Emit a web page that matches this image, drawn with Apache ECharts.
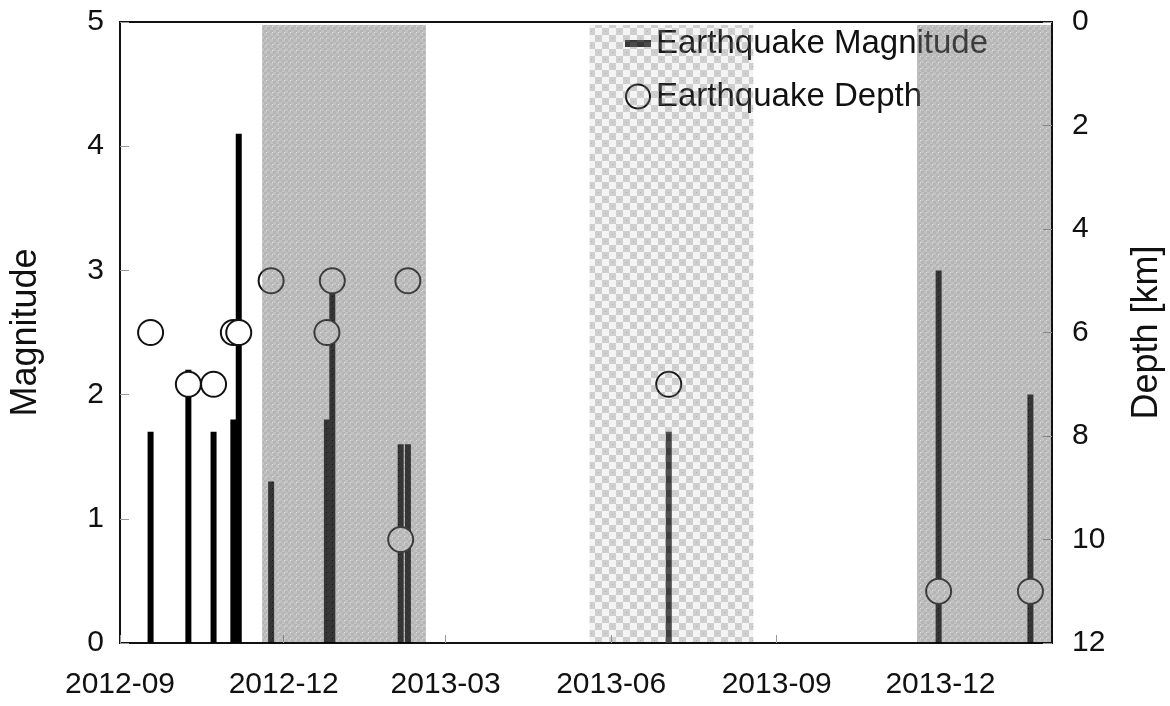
<!DOCTYPE html>
<html>
<head>
<meta charset="utf-8">
<script src="https://cdn.jsdelivr.net/npm/echarts@6/dist/echarts.min.js"></script>
<style>
html,body{margin:0;padding:0;background:#fff;}
#chart{width:1170px;height:706px;}
</style>
</head>
<body>
<div id="chart"></div>
<script>
// ---- data ----
const eventDates = ['2012-09-18','2012-10-09','2012-10-23','2012-11-03','2012-11-06','2012-11-24','2012-12-25','2012-12-28','2013-02-04','2013-02-08','2013-07-03','2013-11-30','2014-01-20'];
const magnitudes = [1.7, 2.2, 1.7, 1.8, 4.1, 1.3, 1.8, 2.9, 1.6, 1.6, 1.7, 3.0, 2.0];
const depths     = [6, 7, 7, 6, 6, 5, 6, 5, 10, 5, 7, 11, 11];
const periodStarts = ['2012-11-19','2013-05-20','2013-11-18'];
const periodEnds   = ['2013-02-18','2013-08-19','2014-02-01'];
const periodKinds  = ['dots','checker','dots'];
const xTickLabels = ['2012-09','2012-12','2013-03','2013-06','2013-09','2013-12'];
const xMin = '2012-09-01', xMax = '2014-02-01';
const seriesNames = ['Earthquake Magnitude','Earthquake Depth'];

function ts(s){ const p = s.split('-').map(Number); return Date.UTC(p[0], p[1]-1, p[2]||1); }

// ---- patterns ----
function makeDots(){
  const c = document.createElement('canvas'); c.width = 6; c.height = 6;
  const g = c.getContext('2d');
  g.fillStyle = 'rgba(115,115,115,0.44)'; g.fillRect(0,0,6,6);
  g.fillStyle = 'rgba(90,90,90,0.12)'; g.fillRect(0,0,3,3); g.fillRect(3,3,3,3);
  g.clearRect(2,2,1,1); g.fillStyle = 'rgba(115,115,115,0.2)'; g.fillRect(2,2,1,1);
  return c;
}
function makeChecker(){
  const c = document.createElement('canvas'); c.width = 14; c.height = 14;
  const g = c.getContext('2d');
  g.fillStyle = 'rgba(120,120,120,0.08)'; g.fillRect(0,0,14,14);
  g.fillStyle = 'rgba(120,120,120,0.30)'; g.fillRect(0,0,7,7); g.fillRect(7,7,7,7);
  g.fillStyle = 'rgba(90,90,90,0.25)'; g.fillRect(3,3,1,1); g.fillRect(10,10,1,1);
  return c;
}
const patterns = {
  dots: {image: makeDots(), repeat: 'repeat'},
  checker: {image: makeChecker(), repeat: 'repeat'}
};

function periodKindAt(t){
  for (let i = 0; i < periodStarts.length; i++) {
    if (t >= ts(periodStarts[i]) && t <= ts(periodEnds[i])) return periodKinds[i];
  }
  return null;
}

const barData = eventDates.map((d,i)=>({
  value: [ts(d), magnitudes[i]],
  itemStyle: {color: periodKindAt(ts(d)) === 'checker' ? '#3a3a3a' : '#000'}
}));
const depthData = eventDates.map((d,i)=>[ts(d), depths[i]]);
const periodData = periodStarts.map((s,i)=>[ts(s), ts(periodEnds[i]), 0, i]);
const tickValues = xTickLabels.map(ts);

const font = 'Liberation Sans';
const chart = echarts.init(document.getElementById('chart'), null, {renderer:'canvas'});
chart.setOption({
  animation: false,
  backgroundColor: '#fff',
  textStyle: {fontFamily: font},
  grid: {left: 120, right: 118, top: 22, bottom: 63, show: true, borderColor: '#111', borderWidth: 2,
         backgroundColor: 'transparent', containLabel: false, outerBoundsMode: 'none'},
  legend: {
    orient: 'vertical', left: 620, top: 22, itemGap: 20,
    itemWidth: 26, itemHeight: 24,
    textStyle: {fontFamily: font, fontSize: 33, color: '#111'},
    data: [
      {name: seriesNames[0], icon: 'path://M0,0 L26,0 L26,7 L0,7 Z', itemStyle: {color: '#333'}},
      {name: seriesNames[1], icon: 'circle'}
    ]
  },
  xAxis: {
    type: 'value', min: ts(xMin), max: ts(xMax),
    axisLine: {show: true, lineStyle: {color: '#111', width: 2}},
    axisTick: {show: true, inside: true, length: 8, lineStyle: {color: '#999'}, customValues: tickValues},
    axisLabel: {customValues: tickValues, fontSize: 30, color: '#111', margin: 27,
      formatter: function(v){ const i = tickValues.indexOf(v); return i >= 0 ? xTickLabels[i] : ''; }},
    splitLine: {show: false}
  },
  yAxis: [
    {type: 'value', min: 0, max: 5, interval: 1, name: 'Magnitude', nameLocation: 'middle', nameGap: 76, nameRotate: 90,
     nameTextStyle: {fontSize: 36, color: '#111', fontFamily: font},
     axisLine: {show: true, lineStyle: {color: '#111', width: 2}},
     axisTick: {show: true, inside: true, length: 9, lineStyle: {color: '#999'}},
     axisLabel: {fontSize: 30, color: '#111', margin: 16},
     splitLine: {show: false}},
    {type: 'value', min: 0, max: 12, interval: 2, inverse: true, position: 'right', name: 'Depth [km]', nameLocation: 'middle', nameGap: 77, nameRotate: 90,
     nameTextStyle: {fontSize: 36, color: '#111', fontFamily: font},
     axisLine: {show: true, lineStyle: {color: '#111', width: 2}},
     axisTick: {show: true, inside: true, length: 9, lineStyle: {color: '#999'}},
     axisLabel: {fontSize: 30, color: '#111', margin: 20},
     splitLine: {show: false}}
  ],
  series: [
    {name: seriesNames[0], type: 'bar', yAxisIndex: 0, data: barData, barWidth: 6, barGap: '-100%',
     itemStyle: {color: '#000'}, z: 2},
    {name: seriesNames[1], type: 'scatter', yAxisIndex: 1, data: depthData, symbol: 'circle', symbolSize: 25,
     itemStyle: {color: '#fff', borderColor: '#111', borderWidth: 2, opacity: 1}, z: 3},
    {name: 'periods', type: 'custom', yAxisIndex: 0, data: periodData, z: 10, silent: true,
     encode: {x: [0,1], y: 2},
     renderItem: function(params, api){
       const cs = params.coordSys;
       let x1 = api.coord([api.value(0), 0])[0];
       let x2 = api.coord([api.value(1), 0])[0];
       x1 = Math.max(x1, cs.x); x2 = Math.min(x2, cs.x + cs.width - 1);
       const kind = periodKinds[api.value(3)];
       return {type: 'rect', shape: {x: x1, y: cs.y + 3, width: x2 - x1, height: cs.height - 4},
               style: {fill: patterns[kind]}, silent: true};
     }}
  ]
});
</script>
</body>
</html>
